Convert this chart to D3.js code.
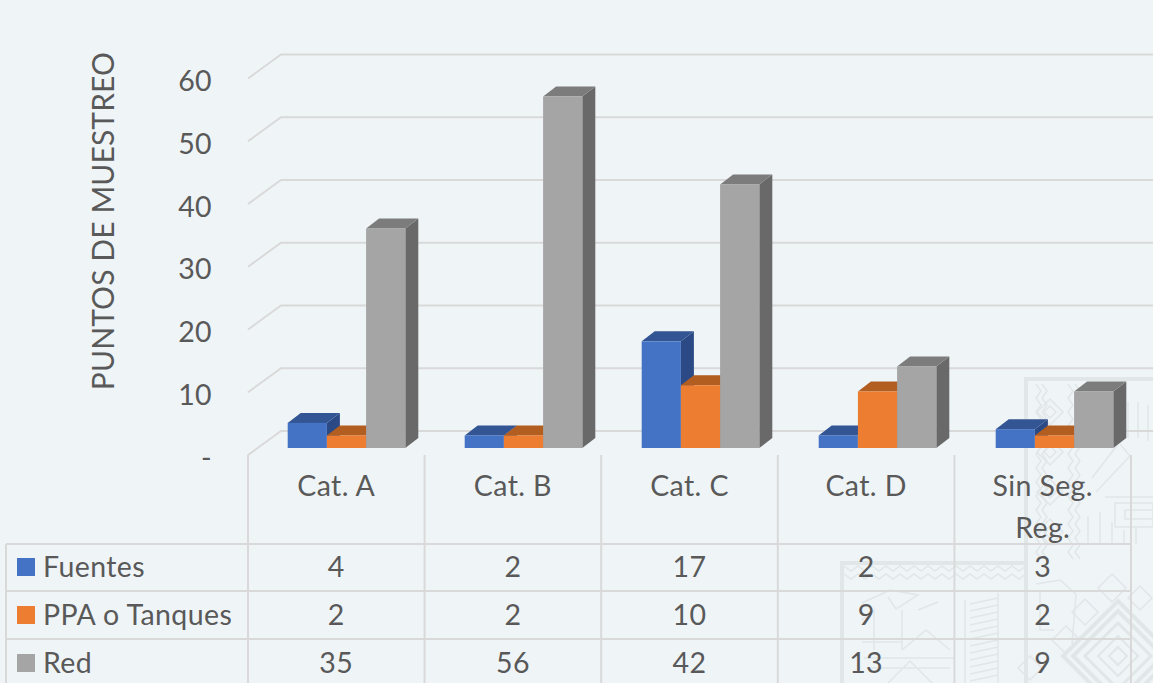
<!DOCTYPE html>
<html>
<head>
<meta charset="utf-8">
<script src="https://cdn.jsdelivr.net/npm/d3@7"></script>
<style>
  html, body { margin: 0; padding: 0; background: #eff4f7; overflow: hidden; }
  text { font-family: Lato, "Open Sans", sans-serif; fill: #595959; font-size: 28.5px; letter-spacing: 0.4px; }
</style>
</head>
<body>
<svg id="chart" width="1153" height="683"></svg>
<script>
// Chart data
const categories = ['Cat. A', 'Cat. B', 'Cat. C', 'Cat. D', 'Sin Seg.|Reg.'];
const seriesNames = ['Fuentes', 'PPA o Tanques', 'Red'];
const fuentes = [4, 2, 17, 2, 3];
const ppaTanques = [2, 2, 10, 9, 2];
const red = [35, 56, 42, 13, 9];
const yTicks = [0, 10, 20, 30, 40, 50, 60];

const seriesValues = [fuentes, ppaTanques, red];
const frontColors = ['#4472c4', '#ed7d31', '#a5a5a5'];
const topColors = ['#335593', '#b25e20', '#7c7c7c'];
const sideColors = ['#2b4a85', '#9c5220', '#696969'];

const svg = d3.select('#chart');
const gridColor = '#d9d9d9';

// Layout
const tableLeft = 6, plotLeft = 248, plotRight = 1131;
const floorY = 455, topY = 78.5;
const wallDx = 33, wallDy = -24;     // depth of the whole plot box
const barDx = 13, barDy = -10;       // depth of one bar
const barLift = 7;                   // bars sit a bit inside the floor
const rowLines = [544, 591, 639];
const rowCenters = [566, 614, 662];

const y = d3.scaleLinear().domain([0, 60]).range([floorY, topY]);
const x = d3.scaleBand().domain(categories).range([plotLeft, plotRight]);
// bars step very slightly wider than the table columns
const xBars = d3.scaleBand().domain(categories).range([plotLeft, plotLeft + 885]);
const xSeries = d3.scaleBand().domain(seriesNames).range([39.7, 157.3]);

// Watermark behind everything
function drawWatermark() {
  const g = svg.append('g').attr('fill', 'none').attr('stroke', '#e1e6e8').attr('stroke-width', 1.5)
    .style('filter', 'blur(0.5px)');
  const zig = (x0, y0, n, dx, dy, horizontal) => {
    const pts = d3.range(n).map(i => horizontal
      ? [x0 + i * dx, y0 + (i % 2) * dy]
      : [x0 + (i % 2) * dy, y0 + i * dx]);
    g.append('path').attr('d', d3.line()(pts));
  };
  const diamond = (cx, cy, r, w) => g.append('path').attr('stroke-width', w || 1.5)
    .attr('d', `M${cx},${cy - r}L${cx + r},${cy}L${cx},${cy + r}L${cx - r},${cy}Z`);

  g.append('path').attr('stroke-width', 4).attr('d', 'M1153,379H1026V683');
  g.append('path').attr('stroke-width', 4).attr('d', 'M1026,563H842V683');

  // zigzag columns and diamond chain on the left panel
  [1036, 1042, 1068, 1075].forEach(px => zig(px, 384, 26, 7, 5, false));
  [412, 452, 492, 532].forEach(cy => { diamond(1050, cy, 13); diamond(1050, cy, 6); });

  // zigzag band along the bottom panel
  [566, 574].forEach(py => zig(844, py, 27, 7, 5, true));

  // hatching
  g.append('path').attr('d', 'M965,600V683M998,593V683');
  d3.range(12).forEach(i => g.append('path').attr('d', `M970,${604 + i * 7}l28,-6`));

  // concentric diamond
  [[55, 4], [45, 4], [33, 3], [20, 2], [9, 2]].forEach(d => diamond(1118, 656, d[0], d[1]));
  [[1066, 640, 14], [1085, 612, 13], [1112, 588, 14], [1140, 598, 12], [1030, 668, 12]].forEach(d => diamond(d[0], d[1], d[2]));

  // figures in the upper and lower panels
  g.append('path').attr('d', 'M1105,497h48M1115,503h38v24h-38zM1125,510h28v9h-28z');
  g.append('path').attr('d', 'M1092,478l26,-34l-14,-12M1096,492l34,-36l-10,-12M1108,400v36M1118,398v40M1128,402v36M1138,402v36M1148,405v36');
  g.append('path').attr('d', 'M1088,516v28M1100,512v32M1112,522v22M1124,530v14M1136,526v18');
  g.append('path').attr('d', 'M862,603l28,-13l28,5l-22,14l-8,-12M918,610l20,-8M902,610v40M862,620l12,-10v40M862,642h40M902,650l24,-20l24,20');
  g.append('path').attr('d', 'M864,658h90M868,668h82M888,683l22,-22l22,22');
  g.append('path').attr('d', 'M1036,584l24,-4l16,14l-4,50M1040,590v40h14');
}
drawWatermark();

// Back wall and left wall grid
const grid = svg.append('g').attr('stroke', gridColor).attr('stroke-width', 2).attr('fill', 'none');
yTicks.forEach(t => {
  grid.append('path').attr('d', d3.line()([
    [plotLeft, y(t)],
    [plotLeft + wallDx, y(t) + wallDy],
    [1153, y(t) + wallDy]
  ]));
});

// Table lines
const table = svg.append('g').attr('stroke', gridColor).attr('stroke-width', 2);
rowLines.forEach(ry => {
  table.append('line').attr('x1', tableLeft).attr('x2', plotRight).attr('y1', ry).attr('y2', ry);
});
table.append('line').attr('x1', tableLeft).attr('x2', tableLeft).attr('y1', rowLines[0]).attr('y2', 683);
categories.forEach((c, i) => {
  const lx = x(c);
  table.append('line').attr('x1', lx).attr('x2', lx).attr('y1', floorY).attr('y2', 683);
  if (i === categories.length - 1) {
    table.append('line').attr('x1', lx + x.bandwidth()).attr('x2', lx + x.bandwidth()).attr('y1', floorY).attr('y2', 683);
  }
});

// 3D bars
const poly = pts => pts.map(p => p.join(',')).join(' ');
categories.forEach((c, ci) => {
  seriesNames.forEach((s, si) => {
    const v = seriesValues[si][ci];
    const x0 = xBars(c) + xSeries(s);
    const x1 = x0 + xSeries.bandwidth();
    const yb = y(0) - barLift;
    const yt = y(v) - barLift;
    const g = svg.append('g');
    g.append('polygon').attr('fill', sideColors[si])
      .attr('points', poly([[x1, yb], [x1 + barDx, yb + barDy], [x1 + barDx, yt + barDy], [x1, yt]]));
    g.append('polygon').attr('fill', topColors[si])
      .attr('points', poly([[x0, yt], [x0 + barDx, yt + barDy], [x1 + barDx, yt + barDy], [x1, yt]]));
    g.append('rect').attr('fill', frontColors[si])
      .attr('x', x0).attr('y', yt).attr('width', x1 - x0).attr('height', yb - yt);
  });
});

// Y axis
const yAxis = d3.axisLeft(y).tickValues(yTicks).tickSize(0)
  .tickFormat(d => d === 0 ? '-' : d);
const yG = svg.append('g').attr('transform', 'translate(212,3)').call(yAxis);
yG.select('.domain').remove();
yG.selectAll('text').attr('x', 0)
  .style('font-size', '28.5px').style('font-family', 'Lato').style('fill', '#595959');

svg.append('text')
  .attr('transform', 'translate(114,221) rotate(-90)')
  .attr('text-anchor', 'middle')
  .style('font-size', '30px')
  .style('letter-spacing', '0.1px')
  .text('PUNTOS DE MUESTREO');

// Category labels
categories.forEach(c => {
  const cx = x(c) + x.bandwidth() / 2;
  c.split('|').forEach((line, i) => {
    svg.append('text').attr('x', cx).attr('y', 485 + i * 42)
      .attr('text-anchor', 'middle').attr('dominant-baseline', 'central')
      .text(line);
  });
});

// Data table rows with legend keys
seriesNames.forEach((s, si) => {
  const cy = rowCenters[si];
  svg.append('rect').attr('x', 17).attr('y', cy - 8).attr('width', 18).attr('height', 18)
    .attr('fill', frontColors[si]);
  svg.append('text').attr('x', 43).attr('y', cy).attr('dominant-baseline', 'central')
    .text(s);
  seriesValues[si].forEach((v, ci) => {
    svg.append('text').attr('x', x(categories[ci]) + x.bandwidth() / 2).attr('y', cy)
      .attr('text-anchor', 'middle').attr('dominant-baseline', 'central')
      .text(v);
  });
});
</script>
</body>
</html>
